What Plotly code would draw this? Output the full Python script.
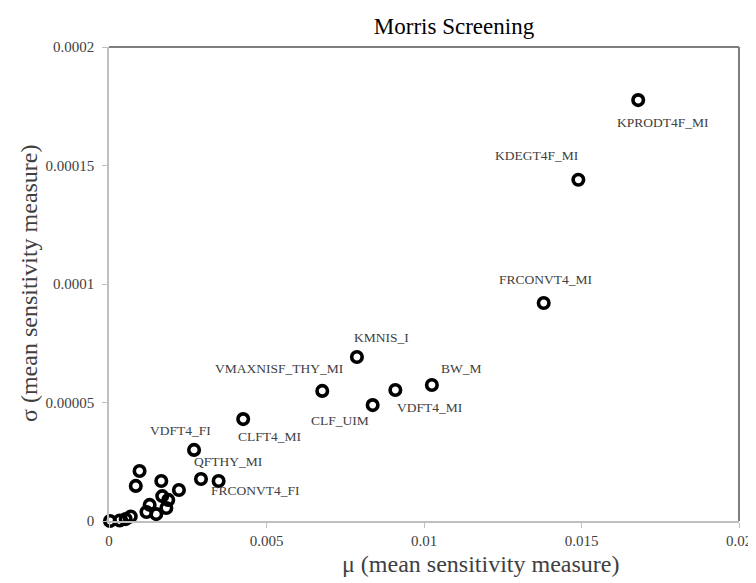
import plotly.graph_objects as go

# Labelled factors
names = ["KPRODT4F_MI", "KDEGT4F_MI", "FRCONVT4_MI", "KMNIS_I", "BW_M", "VDFT4_MI",
         "VMAXNISF_THY_MI", "CLF_UIM", "CLFT4_MI", "VDFT4_FI", "QFTHY_MI", "FRCONVT4_FI"]
mu_named = [0.0168, 0.0149, 0.0138, 0.00787, 0.01025, 0.00909,
            0.00677, 0.00837, 0.00426, 0.0027, 0.00292, 0.00348]
sigma_named = [0.0001776, 0.000144, 0.000092, 0.0000692, 0.0000574, 0.0000553,
               0.0000549, 0.0000489, 0.000043, 0.000030, 0.0000177, 0.0000169]

# Unlabelled factors
mu_other = [0.00097, 0.00085, 0.00166, 0.00222, 0.00169, 0.00188, 0.00182, 0.00129,
            0.00119, 0.0015, 0.00003, 0.00034, 0.00053, 0.00069]
sigma_other = [0.0000211, 0.0000148, 0.0000169, 0.0000131, 0.0000105, 0.0000089, 0.0000055,
               0.0000068, 0.0000038, 0.0000029, 0.0, 0.0000002, 0.0000008, 0.0000019]

x_ticks = [0, 0.005, 0.01, 0.015, 0.02]
x_ticktext = ["0", "0.005", "0.01", "0.015", "0.02"]
y_ticks = [0, 0.00005, 0.0001, 0.00015, 0.0002]
y_ticktext = ["0", "0.00005", "0.0001", "0.00015", "0.0002"]

# label offsets in pixels (styling)
offsets = {
    "KPRODT4F_MI": (25, -22), "KDEGT4F_MI": (-41, 24), "FRCONVT4_MI": (2, 23),
    "KMNIS_I": (25, 20), "BW_M": (30, 16), "VDFT4_MI": (35, -18),
    "VMAXNISF_THY_MI": (-43, 22), "CLF_UIM": (-33, -15), "CLFT4_MI": (27, -17),
    "VDFT4_FI": (-14, 19), "QFTHY_MI": (28, 18), "FRCONVT4_FI": (37, -10),
}

FONT = "Liberation Serif"
W, H = 756, 583
fig = go.Figure()
marker = dict(symbol="circle-open", size=10.5, color="black", line=dict(width=3.6, color="black"))
fig.add_trace(go.Scatter(x=mu_other, y=sigma_other, mode="markers", marker=marker,
                         cliponaxis=False, showlegend=False))
fig.add_trace(go.Scatter(x=mu_named, y=sigma_named, mode="markers", marker=marker,
                         cliponaxis=False, showlegend=False))

for n, xv, yv in zip(names, mu_named, sigma_named):
    dx, dy = offsets[n]
    fig.add_annotation(x=xv, y=yv, text=n, showarrow=False, xshift=dx, yshift=dy,
                       font=dict(family=FONT, size=13.5, color="#404040"))

# axis titles
fig.add_annotation(xref="paper", yref="paper", x=(477 - 101) / 638, y=-(556 - 513) / 474,
                   text="μ (mean sensitivity measure)", showarrow=False,
                   xanchor="center", yanchor="middle",
                   font=dict(family=FONT, size=24, color="#404040"))
fig.add_annotation(xref="paper", yref="paper", x=-(101 - 20) / 638, y=(513 - 275) / 474,
                   text="σ (mean sensitivity measure)", showarrow=False, textangle=-90,
                   xanchor="center", yanchor="middle",
                   font=dict(family=FONT, size=24, color="#404040"))

fig.add_shape(type="line", xref="paper", yref="paper", x0=0, x1=1, y0=1, y1=1,
              line=dict(color="#7f7f7f", width=2))
fig.add_shape(type="line", xref="paper", yref="paper", x0=1, x1=1, y0=0, y1=1,
              line=dict(color="#7f7f7f", width=2))

fig.update_layout(
    width=W, height=H,
    margin=dict(l=101, r=17, t=39, b=70),
    paper_bgcolor="white", plot_bgcolor="white",
    font=dict(family=FONT, color="#404040"),
    title=dict(text="Morris Screening", x=446 / W, xanchor="center", y=1 - 18 / H, yanchor="middle",
               font=dict(family=FONT, size=23, color="black")),
    xaxis=dict(range=[0, 0.02], tickvals=x_ticks, ticktext=x_ticktext, showgrid=False,
               zeroline=False, showline=True, linecolor="#bfbfbf", linewidth=1.5,
               ticks="outside", ticklen=5, tickcolor="#bfbfbf",
               tickfont=dict(family=FONT, size=15, color="#404040")),
    yaxis=dict(range=[0, 0.0002], tickvals=y_ticks, ticktext=y_ticktext, showgrid=False,
               zeroline=False, showline=True, linecolor="#bfbfbf", linewidth=1.5,
               ticks="outside", ticklen=5, tickcolor="#bfbfbf", ticklabelstandoff=5,
               tickfont=dict(family=FONT, size=15, color="#404040")),
)

fig.write_html("out.html")
